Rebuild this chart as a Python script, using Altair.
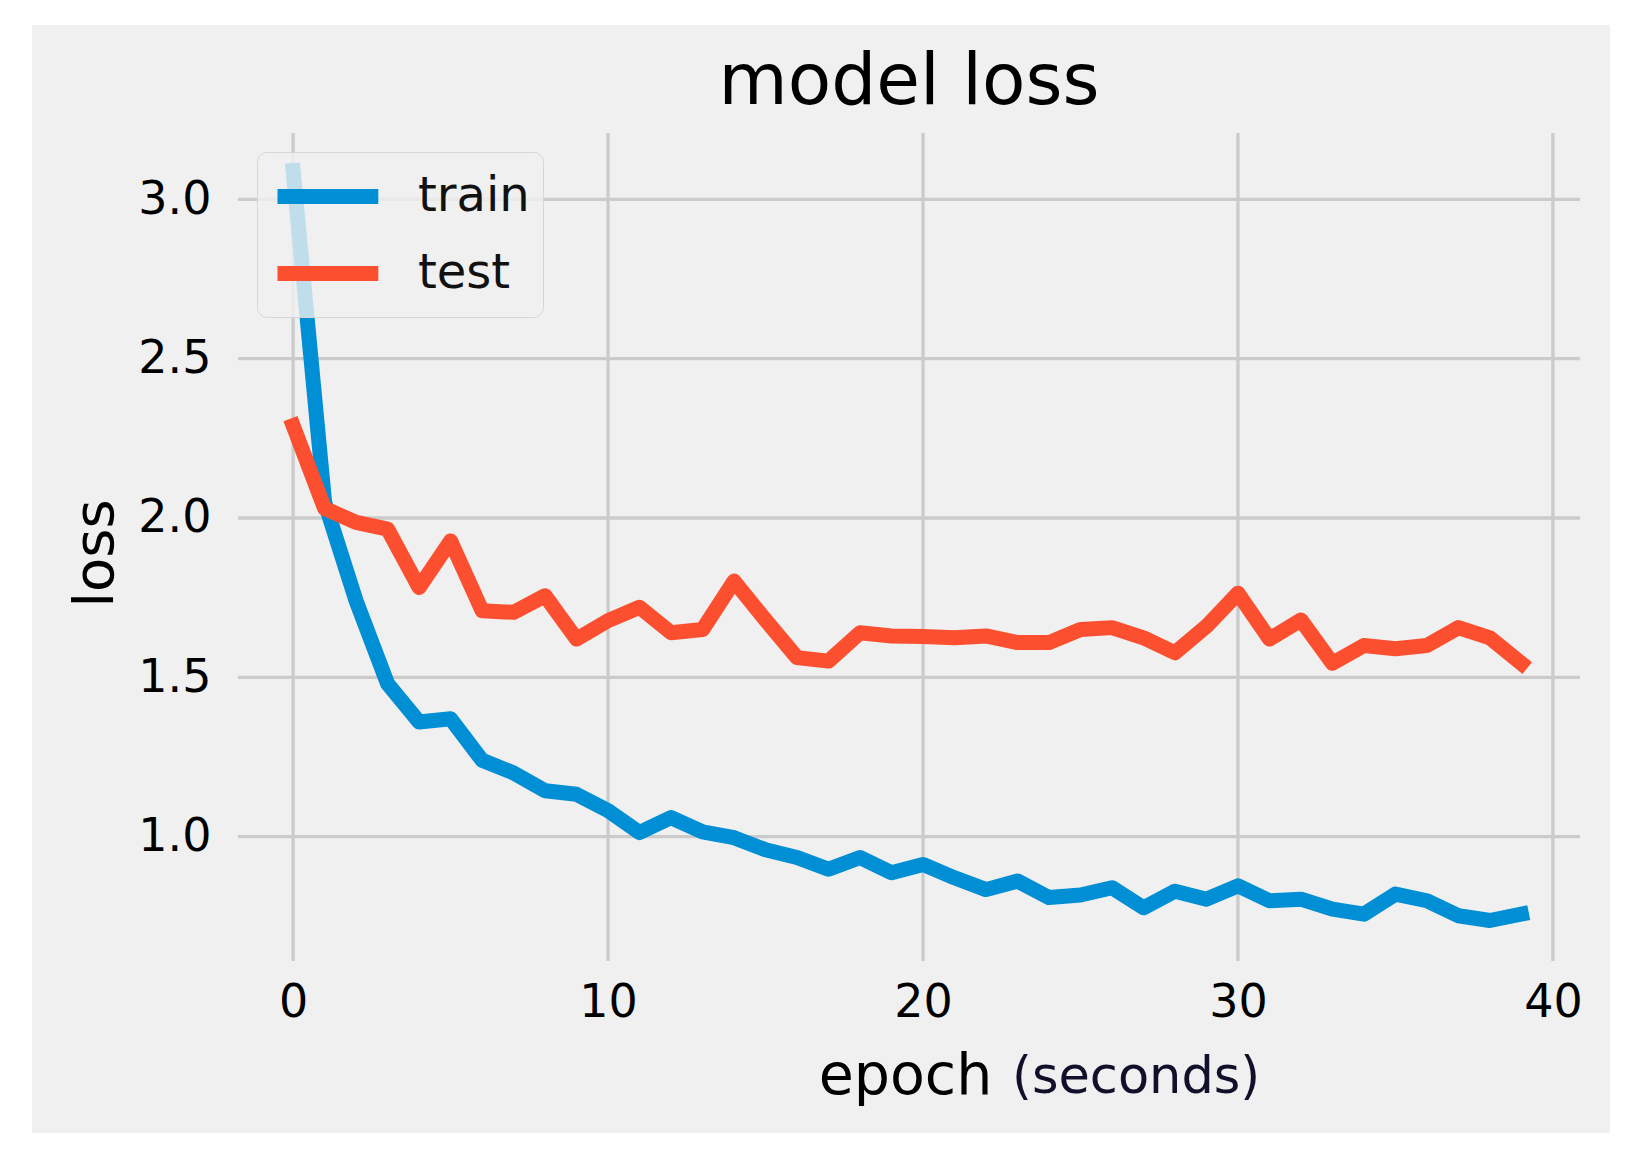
import altair as alt
import pandas as pd

epochs = list(range(40))
train_loss = [3.09, 2.05, 1.74, 1.48, 1.36, 1.37, 1.24, 1.20, 1.144, 1.133,
              1.082, 1.013, 1.06, 1.015, 0.997, 0.959, 0.935, 0.898, 0.935, 0.887,
              0.913, 0.871, 0.834, 0.861, 0.809, 0.817, 0.84, 0.777, 0.829, 0.804,
              0.846, 0.799, 0.804, 0.773, 0.757, 0.82, 0.799, 0.752, 0.737, 0.757]
test_loss = [2.29, 2.03, 1.986, 1.965, 1.782, 1.928, 1.709, 1.704, 1.756, 1.62,
             1.678, 1.72, 1.64, 1.65, 1.802, 1.68, 1.562, 1.551, 1.64, 1.63,
             1.628, 1.624, 1.63, 1.609, 1.609, 1.65, 1.656, 1.624, 1.577, 1.66,
             1.764, 1.62, 1.68, 1.544, 1.60, 1.59, 1.60, 1.656, 1.624, 1.544]
series_names = ["train", "test"]
series_colors = ["#008fd5", "#fc4f30"]
x_ticks = [0, 10, 20, 30, 40]
y_ticks = [1.0, 1.5, 2.0, 2.5, 3.0]

FONT = "DejaVu Sans"
W, H = 1342, 828

train_df = pd.DataFrame({"epoch": epochs, "loss": train_loss, "series": "train"})
test_df = pd.DataFrame({"epoch": epochs, "loss": test_loss, "series": "test"})
xt_df = pd.DataFrame({"tick": x_ticks})
yt_df = pd.DataFrame({"tick": y_ticks})

xscale = alt.Scale(domain=[-1.75, 40.86], nice=False, zero=False)
yscale = alt.Scale(domain=[0.61, 3.208], nice=False, zero=False)
cscale = alt.Scale(domain=series_names, range=series_colors)

panel = alt.Chart(pd.DataFrame({"a": [0]})).mark_rect(
    color="#f0f0f0", clip=False
).encode(
    x=alt.value(-206), x2=alt.value(1372), y=alt.value(-108), y2=alt.value(1000)
)

vgrid = alt.Chart(xt_df).mark_rule(color="#cbcbcb", strokeWidth=3.3).encode(
    x=alt.X("tick:Q", scale=xscale,
            axis=alt.Axis(values=x_ticks, format="d", title="epoch",
                          titleX=667, titleY=132, titleAlign="center",
                          titleBaseline="alphabetic", titleFontSize=57,
                          titleFontWeight="normal",
                          labelPadding=19, zindex=2))
)
hgrid = alt.Chart(yt_df).mark_rule(color="#cbcbcb", strokeWidth=3.3).encode(
    y=alt.Y("tick:Q", scale=yscale,
            axis=alt.Axis(values=y_ticks, format=".1f", title="loss",
                          titleAngle=270, titleX=-126, titleY=420,
                          titleAlign="center", titleBaseline="alphabetic",
                          titleFontSize=56, titleFontWeight="normal",
                          labelPadding=27, zindex=2))
)

legend = alt.Legend(
    orient="none", legendX=19, legendY=19,
    fillColor="rgba(240,240,240,0.8)", strokeColor="#d6d6d6",
    cornerRadius=10, padding=13,
    labelFont=FONT, labelFontSize=48, labelColor="#111111",
    labelExpr="datum.label + ' '",
    symbolType="M-1,0H3.2", symbolStrokeWidth=15, symbolSize=2304,
    labelOffset=85, rowPadding=15, zindex=3
)

def line_layer(df):
    return alt.Chart(df).mark_line(
        strokeWidth=15, strokeCap="square", strokeJoin="round"
    ).encode(
        x=alt.X("epoch:Q", scale=xscale),
        y=alt.Y("loss:Q", scale=yscale),
        color=alt.Color("series:N", scale=cscale, sort=series_names,
                        title=None, legend=legend),
    )

title_txt = alt.Chart(pd.DataFrame({"t": ["model loss"]})).mark_text(
    font=FONT, fontSize=71, align="center", baseline="alphabetic",
    color="#000000", clip=False
).encode(text="t:N", x=alt.value(671), y=alt.value(-29))

sec_txt = alt.Chart(pd.DataFrame({"t": ["(seconds)"]})).mark_text(
    font=FONT, fontSize=51, align="left", baseline="alphabetic",
    color="#10102a", clip=False
).encode(text="t:N", x=alt.value(774), y=alt.value(960))

chart = alt.layer(
    panel, vgrid, hgrid, line_layer(train_df), line_layer(test_df),
    title_txt, sec_txt
).properties(
    width=W, height=H,
    autosize=alt.AutoSizeParams(type="none"),
    padding={"left": 230, "top": 125, "right": 30, "bottom": 172},
    background="#ffffff",
).configure_view(
    stroke=None, fill=None
).configure_axis(
    domain=False, ticks=False, tickSize=0, grid=False,
    labelFont=FONT, labelFontSize=46, labelColor="#000000",
    titleFont=FONT, titleColor="#000000"
)

chart.save("out.html", embed_options={"renderer": "svg", "actions": False})
